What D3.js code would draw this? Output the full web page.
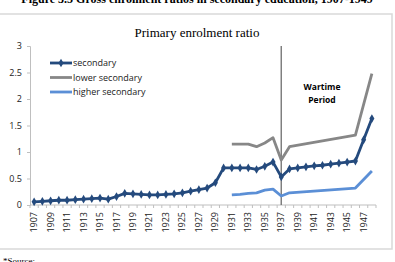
<!DOCTYPE html>
<html>
<head>
<meta charset="utf-8">
<script src="https://cdn.jsdelivr.net/npm/d3@7"></script>
<style>
  body { margin: 0; background: #fff; }
  svg { display: block; }
</style>
</head>
<body>
<script>
// data
var years = d3.range(1907, 1949);
var secondary = [0.06, 0.07, 0.08, 0.09, 0.09, 0.10, 0.11, 0.12, 0.13, 0.11,
                 0.16, 0.22, 0.21, 0.20, 0.19, 0.19, 0.20, 0.21, 0.23, 0.26,
                 0.29, 0.32, 0.42, 0.70, 0.70, 0.70, 0.70, 0.67, 0.73, 0.81,
                 0.53, 0.68, 0.70, 0.72, 0.74, 0.75, 0.77, 0.79, 0.81, 0.83,
                 1.23, 1.63];
var lowerSecondary = {1931: 1.15, 1932: 1.15, 1933: 1.15, 1934: 1.10, 1935: 1.17,
                      1936: 1.27, 1937: 0.85, 1938: 1.10, 1946: 1.32, 1948: 2.48};
var higherSecondary = {1931: 0.19, 1932: 0.20, 1933: 0.22, 1934: 0.23, 1935: 0.28,
                       1936: 0.30, 1937: 0.17, 1938: 0.23, 1946: 0.32, 1948: 0.64};
var yTicks = [0, 0.5, 1, 1.5, 2, 2.5, 3];
var wartimeYear = 1937;

var width = 395, height = 262;
var plot = {left: 30, right: 376, top: 46, bottom: 205};
var serif = "'Liberation Serif', 'Times New Roman', serif";
var sans = "'Open Sans', 'Liberation Sans', sans-serif";

var svg = d3.select('body').append('svg')
    .attr('width', width)
    .attr('height', height);

// figure caption (cut by the page top, as in the source)
svg.append('text')
    .attr('x', 197).attr('y', 3)
    .attr('text-anchor', 'middle')
    .style('font-family', serif)
    .style('font-weight', 'bold')
    .style('font-size', '12px')
    .text('Figure 3.5 Gross enrolment ratios in secondary education, 1907-1949');

// chart frame
svg.append('rect')
    .attr('x', -2).attr('y', 14)
    .attr('width', 394).attr('height', 235)
    .attr('fill', '#fff')
    .attr('stroke', '#d9d9d9')
    .attr('stroke-width', 1.5);

svg.append('text')
    .attr('x', 197).attr('y', 37)
    .attr('text-anchor', 'middle')
    .style('font-family', serif)
    .style('font-size', '13px')
    .text('Primary enrolment ratio');

var xs = d3.scaleBand().domain(years).range([plot.left, plot.right]);
var ys = d3.scaleLinear().domain([0, 3]).range([plot.bottom, plot.top]);
var half = xs.bandwidth() / 2;

// y axis
var yAxis = svg.append('g')
    .attr('transform', 'translate(' + plot.left + ',0)')
    .call(d3.axisLeft(ys).tickValues(yTicks).tickSize(3).tickPadding(5)
        .tickFormat(function (d) { return String(d); }));
yAxis.select('.domain').attr('stroke', '#bfbfbf');
yAxis.selectAll('.tick line').attr('stroke', '#bfbfbf');
yAxis.selectAll('text')
    .style('font-family', sans)
    .style('font-size', '9px')
    .attr('fill', '#222');

// x axis: ticks between categories, labels on every other year
var xAxisG = svg.append('g');
xAxisG.append('line')
    .attr('x1', plot.left).attr('x2', plot.right)
    .attr('y1', plot.bottom).attr('y2', plot.bottom)
    .attr('stroke', '#bfbfbf');
xAxisG.selectAll('line.tk')
    .data(years.concat([null]))
    .enter().append('line')
    .attr('class', 'tk')
    .attr('x1', function (d, i) { return plot.left + i * xs.bandwidth(); })
    .attr('x2', function (d, i) { return plot.left + i * xs.bandwidth(); })
    .attr('y1', plot.bottom).attr('y2', plot.bottom + 3)
    .attr('stroke', '#bfbfbf');
xAxisG.selectAll('text')
    .data(years.filter(function (d) { return (d - 1907) % 2 === 0; }))
    .enter().append('text')
    .attr('transform', function (d) {
        return 'translate(' + (xs(d) + half + 3) + ',' + (plot.bottom + 7) + ') rotate(-90)';
    })
    .attr('text-anchor', 'end')
    .style('font-family', sans)
    .style('font-size', '9px')
    .attr('fill', '#222')
    .text(function (d) { return d; });

// wartime divider
svg.append('line')
    .attr('x1', xs(wartimeYear) + half).attr('x2', xs(wartimeYear) + half)
    .attr('y1', plot.top).attr('y2', plot.bottom)
    .attr('stroke', '#7f7f7f')
    .attr('stroke-width', 1.5);

svg.append('text')
    .attr('x', 322).attr('y', 90)
    .attr('text-anchor', 'middle')
    .style('font-family', sans)
    .style('font-weight', 'bold')
    .style('font-size', '8.5px')
    .selectAll('tspan')
    .data(['Wartime', 'Period'])
    .enter().append('tspan')
    .attr('x', 322)
    .attr('dy', function (d, i) { return i === 0 ? 0 : 13; })
    .text(function (d) { return d; });

var line = d3.line()
    .x(function (d) { return xs(d.year) + half; })
    .y(function (d) { return ys(d.value); });

function toPoints(obj) {
    return Object.keys(obj).map(function (k) { return {year: +k, value: obj[k]}; });
}

var series = [
    {name: 'higher secondary', color: '#5b8fd6', points: toPoints(higherSecondary)},
    {name: 'lower secondary', color: '#878787', points: toPoints(lowerSecondary)},
    {name: 'secondary', color: '#244a7d', markers: true,
     points: years.map(function (y, i) { return {year: y, value: secondary[i]}; })}
];

series.forEach(function (s) {
    svg.append('path')
        .datum(s.points)
        .attr('d', line)
        .attr('fill', 'none')
        .attr('stroke', s.color)
        .attr('stroke-width', 2.8)
        .attr('stroke-linejoin', 'round');
    if (s.markers) {
        svg.selectAll('path.mk')
            .data(s.points)
            .enter().append('path')
            .attr('class', 'mk')
            .attr('d', d3.symbol().type(d3.symbolDiamond).size(22))
            .attr('transform', function (d) {
                return 'translate(' + (xs(d.year) + half) + ',' + ys(d.value) + ')';
            })
            .attr('fill', s.color);
    }
});

// legend
var legendItems = [
    {name: 'secondary', color: '#244a7d', marker: true},
    {name: 'lower secondary', color: '#878787'},
    {name: 'higher secondary', color: '#5b8fd6'}
];
var lg = svg.selectAll('g.legend')
    .data(legendItems)
    .enter().append('g')
    .attr('class', 'legend')
    .attr('transform', function (d, i) { return 'translate(50,' + (63 + i * 14.5) + ')'; });
lg.append('line')
    .attr('x1', 0).attr('x2', 22)
    .attr('stroke', function (d) { return d.color; })
    .attr('stroke-width', 2.8);
lg.filter(function (d) { return d.marker; })
    .append('path')
    .attr('d', d3.symbol().type(d3.symbolDiamond).size(22))
    .attr('transform', 'translate(11,0)')
    .attr('fill', function (d) { return d.color; });
lg.append('text')
    .attr('x', 23).attr('y', 3)
    .style('font-family', sans)
    .style('font-size', '9px')
    .attr('fill', '#222')
    .text(function (d) { return d.name; });

svg.append('text')
    .attr('x', 3).attr('y', 264)
    .style('font-family', serif)
    .style('font-size', '9px')
    .text('*Source:');
</script>
</body>
</html>
